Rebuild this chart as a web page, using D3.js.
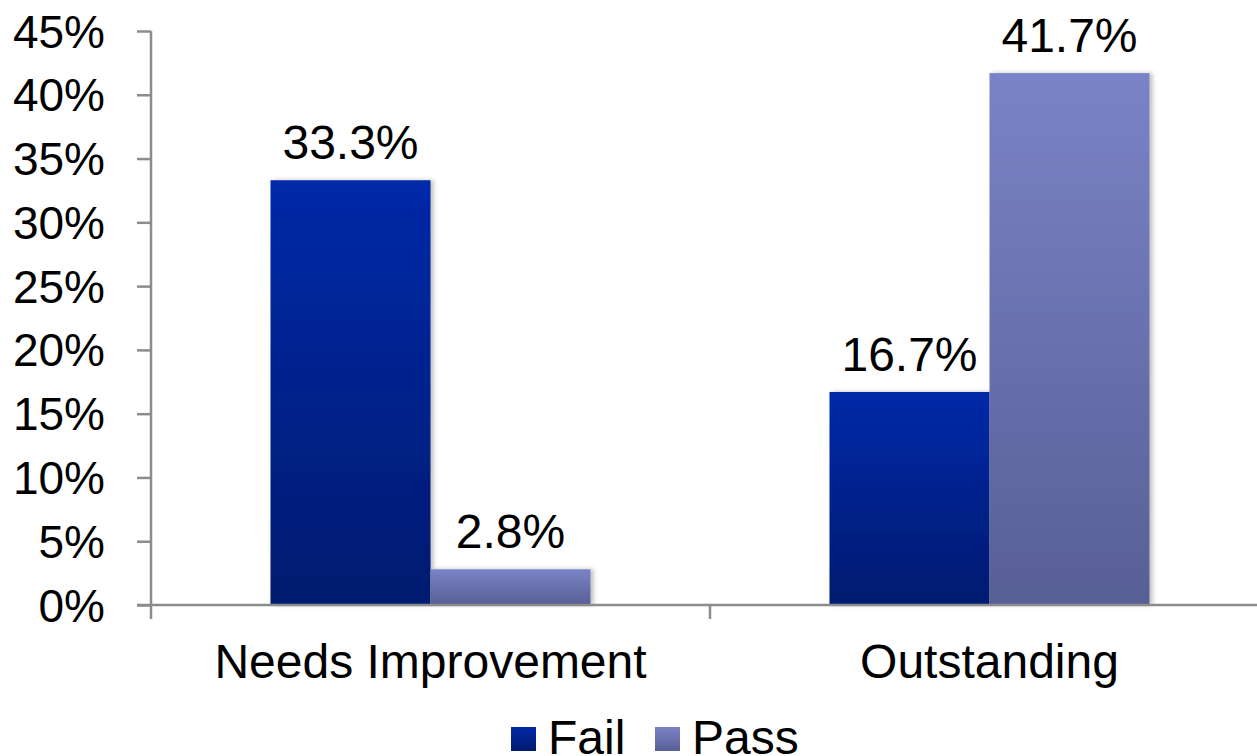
<!DOCTYPE html>
<html>
<head>
<meta charset="utf-8">
<script src="https://cdn.jsdelivr.net/npm/d3@7"></script>
<style>
  body { margin: 0; background: white; }
  text { font-family: "Liberation Sans", Arial, sans-serif; fill: #000; }
</style>
</head>
<body>
<div id="container"></div>
<script>
let w = 1257;
let h = 756;

// data
let categories = ["Needs Improvement", "Outstanding"];
let seriesNames = ["Fail", "Pass"];
let failValues = [0.333, 0.167];
let passValues = [0.028, 0.417];
let yTicks = [0, 0.05, 0.10, 0.15, 0.20, 0.25, 0.30, 0.35, 0.40, 0.45];

let fs = 46;   // tick labels
let fsL = 48;  // data + category labels

let viz = d3.select("#container")
  .append("svg")
    .attr("width", w)
    .attr("height", h)
    .style("background-color", "white");

let defs = viz.append("defs");
let grads = {
  Fail: ["#0229a9", "#001b6f"],
  Pass: ["#7a83c7", "#585f95"]
};
seriesNames.forEach(function(s){
  let g = defs.append("linearGradient").attr("id", "grad" + s)
    .attr("x1", 0).attr("y1", 0).attr("x2", 0).attr("y2", 1);
  g.append("stop").attr("offset", "0%").attr("stop-color", grads[s][0]);
  g.append("stop").attr("offset", "100%").attr("stop-color", grads[s][1]);
});
let shadow = defs.append("filter").attr("id", "shadow").attr("x", "-10%").attr("width", "130%");
shadow.append("feDropShadow").attr("dx", 3).attr("dy", 0).attr("stdDeviation", 2)
  .attr("flood-color", "#000").attr("flood-opacity", 0.25);

let x0 = 151, x1 = 1269;
let x = d3.scaleBand().domain(categories).range([x0, x1]);
let groupW = 320;
let xs = d3.scaleBand().domain(seriesNames).range([0, groupW]);
let y = d3.scaleLinear().domain([0, 0.45]).range([605, 31]);

let rows = categories.map(function(c, i){
  return [{cat: c, s: "Fail", v: failValues[i]}, {cat: c, s: "Pass", v: passValues[i]}];
});
let flat = rows.flat();

let bx = function(d){ return x(d.cat) + (x.bandwidth() - groupW) / 2 + xs(d.s); };

viz.selectAll("rect.bar")
  .data(flat)
  .enter()
  .append("rect")
    .attr("class", "bar")
    .attr("x", bx)
    .attr("y", function(d){ return y(d.v); })
    .attr("width", xs.bandwidth())
    .attr("height", function(d){ return y(0) - y(d.v); })
    .attr("fill", function(d){ return "url(#grad" + d.s + ")"; })
    .attr("filter", "url(#shadow)");

viz.selectAll("text.lbl")
  .data(flat)
  .enter()
  .append("text")
    .attr("class", "lbl")
    .attr("x", function(d){ return bx(d) + xs.bandwidth() / 2; })
    .attr("y", function(d){ return y(d.v) - 21; })
    .attr("text-anchor", "middle")
    .attr("font-size", fsL)
    .text(function(d){ return (d.v * 100).toFixed(1) + "%"; });

// axes
let axisColor = "#8c8c8c";
let yAxis = viz.append("g").attr("transform", "translate(" + x0 + ",0)")
  .call(d3.axisLeft(y).tickValues(yTicks).tickSize(14)
    .tickFormat(function(d){ return Math.round(d * 100) + "%"; }));
yAxis.select(".domain").attr("stroke", axisColor).attr("stroke-width", 2.5).attr("d", "M0," + y(0.45) + "V" + y(0));
yAxis.selectAll(".tick line").attr("stroke", axisColor).attr("stroke-width", 2.5);
yAxis.selectAll(".tick text").attr("font-size", fs).attr("font-family", "Liberation Sans, Arial, sans-serif")
  .attr("fill", "#000").attr("text-anchor", "end").attr("x", -46).attr("dy", "0.35em");

let xAxisG = viz.append("g").attr("transform", "translate(0," + y(0) + ")");
xAxisG.append("line").attr("x1", x0 - 14).attr("x2", w).attr("y1", 0).attr("y2", 0)
  .attr("stroke", axisColor).attr("stroke-width", 2.5);
[x0, x0 + x.bandwidth()].forEach(function(t){
  xAxisG.append("line").attr("x1", t).attr("x2", t).attr("y1", 0).attr("y2", 14)
    .attr("stroke", axisColor).attr("stroke-width", 2.5);
});
xAxisG.selectAll("text.cat")
  .data(categories)
  .enter()
  .append("text")
    .attr("class", "cat")
    .attr("x", function(d){ return x(d) + x.bandwidth() / 2; })
    .attr("y", 73)
    .attr("text-anchor", "middle")
    .attr("font-size", fsL)
    .text(function(d){ return d; });

// legend
let legendX = [511, 655];
let legend = viz.selectAll("g.legend")
  .data(seriesNames)
  .enter()
  .append("g")
    .attr("class", "legend")
    .attr("transform", function(d, i){ return "translate(" + legendX[i] + ",727)"; });
legend.append("rect").attr("width", 25).attr("height", 24)
  .attr("fill", function(d){ return "url(#grad" + d + ")"; });
legend.append("text").attr("x", 37).attr("y", 27).attr("font-size", fsL)
  .text(function(d){ return d; });
</script>
</body>
</html>
